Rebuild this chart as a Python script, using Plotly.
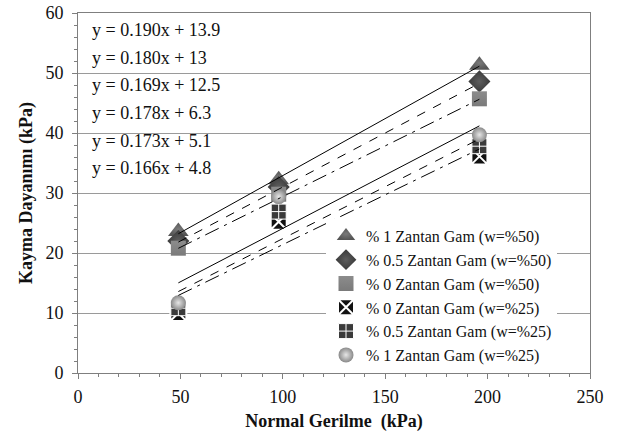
import plotly.graph_objects as go

# ---- data ----
NORMAL_STRESS = [49, 98, 196]
SERIES_NAMES = [
    "% 1 Zantan Gam (w=%50)",
    "% 0.5 Zantan Gam (w=%50)",
    "% 0 Zantan Gam (w=%50)",
    "% 0 Zantan Gam (w=%25)",
    "% 0.5 Zantan Gam (w=%25)",
    "% 1 Zantan Gam (w=%25)",
]
W50_1 = [23.6, 32.2, 51.3]
W50_05 = [22.0, 31.0, 48.6]
W50_0 = [20.8, 29.8, 45.7]
W25_0 = [10.0, 25.2, 36.1]
W25_05 = [10.8, 26.9, 37.8]
W25_1 = [11.7, 29.4, 39.7]
SERIES_VALUES = [W50_1, W50_05, W50_0, W25_0, W25_05, W25_1]

# trendline equations (order as printed on the chart)
EQ_SLOPES = [0.190, 0.180, 0.169, 0.178, 0.173, 0.166]
EQ_INTERCEPTS = [13.9, 13, 12.5, 6.3, 5.1, 4.8]
EQ_TEXTS = [
    "y = 0.190x + 13.9",
    "y = 0.180x + 13",
    "y = 0.169x + 12.5",
    "y = 0.178x + 6.3",
    "y = 0.173x + 5.1",
    "y = 0.166x + 4.8",
]

X_TICKS = [0, 50, 100, 150, 200, 250]
Y_TICKS = [0, 10, 20, 30, 40, 50, 60]

# ---- styles ----
FONT = "Liberation Serif"
marker_styles = [
    dict(symbol="triangle-up", size=18, color="#555555",
         gradient=dict(type="radial", color="#7a7a7a"), line=dict(width=0)),
    dict(symbol="diamond", size=17, color="#3a3a3a",
         gradient=dict(type="radial", color="#5e5e5e"), line=dict(width=0)),
    dict(symbol="square", size=15, color="#8c8c8c",
         gradient=dict(type="vertical", color="#7a7a7a"), line=dict(width=0)),
    dict(symbol="square-x", size=16, color="#111111",
         line=dict(width=2, color="white")),
    dict(symbol="square-cross", size=15, color="#3a3a3a",
         line=dict(width=1, color="white")),
    dict(symbol="circle", size=15, color="#8a8a8a",
         gradient=dict(type="radial", color="#e6e6e6"), line=dict(width=0)),
]
eq_dash = ["solid", "dash", "longdashdot", "solid", "dash", "longdashdot"]

fig = go.Figure()

for name, vals, ms in zip(SERIES_NAMES, SERIES_VALUES, marker_styles):
    fig.add_trace(go.Scatter(
        x=NORMAL_STRESS, y=vals, mode="markers", name=name,
        marker=ms, cliponaxis=False,
    ))

x0, x1 = min(NORMAL_STRESS), max(NORMAL_STRESS)
for m, b, d in zip(EQ_SLOPES, EQ_INTERCEPTS, eq_dash):
    fig.add_trace(go.Scatter(
        x=[x0, x1], y=[m * x0 + b, m * x1 + b], mode="lines",
        line=dict(color="black", width=1, dash=d), showlegend=False,
        hoverinfo="skip",
    ))

W, H = 619, 436
ML, MR, MT, MB = 78, 29, 13, 63
PW, PH = W - ML - MR, H - MT - MB


def px_x(p):  # window pixel -> paper x
    return (p - ML) / PW


def px_y(p):  # window pixel -> paper y
    return (H - MB - p) / PH


# white backgrounds of the equation text box and of the legend box
fig.add_shape(type="rect", xref="paper", yref="paper",
              x0=px_x(82), x1=px_x(233), y0=px_y(186), y1=px_y(16),
              fillcolor="white", line=dict(width=0), layer="between")
fig.add_shape(type="rect", xref="paper", yref="paper",
              x0=px_x(319), x1=px_x(589.5), y0=px_y(366), y1=px_y(204),
              fillcolor="white", line=dict(width=0), layer="between")

eq_pos = [30, 57.5, 85, 112.5, 140.5, 168]
for t, p in zip(EQ_TEXTS, eq_pos):
    fig.add_annotation(text=t, xref="paper", yref="paper", x=px_x(90), y=px_y(p),
                       xanchor="left", yanchor="middle", showarrow=False,
                       font=dict(family=FONT, size=18, color="#111111"))

axis_common = dict(
    showline=True, linecolor="#7f7f7f", linewidth=1, mirror=True,
    ticks="outside", ticklen=5, tickcolor="#7f7f7f",
    tickfont=dict(family=FONT, size=18, color="#111111"),
    zeroline=False, automargin=False,
)

fig.update_layout(
    width=W, height=H,
    margin=dict(l=ML, r=MR, t=MT, b=MB),
    paper_bgcolor="white", plot_bgcolor="white",
    font=dict(family=FONT, size=18, color="#111111"),
    xaxis=dict(range=[0, 250], tickvals=X_TICKS, showgrid=False,
               minor=dict(dtick=10, ticks="outside", ticklen=3, tickcolor="#7f7f7f"),
               ticklabelstandoff=2,
               title=dict(text="<b>Normal Gerilme  (kPa)</b>", standoff=8,
                          font=dict(family=FONT, size=18, color="#111111")),
               **axis_common),
    yaxis=dict(range=[0, 60], tickvals=Y_TICKS, showgrid=True,
               gridcolor="#9a9a9a", gridwidth=1,
               minor=dict(dtick=2, ticks="outside", ticklen=3, tickcolor="#7f7f7f",
                          showgrid=False),
               ticklabelstandoff=5,
               title=dict(text="<b>Kayma Dayanımı (kPa)</b>", standoff=8,
                          font=dict(family=FONT, size=18, color="#111111")),
               **axis_common),
    legend=dict(x=px_x(326), y=px_y(219), xanchor="left", yanchor="top",
                bgcolor="white", borderwidth=0,
                font=dict(family=FONT, size=16, color="#111111"),
                itemsizing="trace", tracegroupgap=0),
    showlegend=True,
)

# remove the browser's default 8px body margin so the figure sits at the window origin
fig.write_html("out.html", config={"displayModeBar": False},
               post_script="document.body.style.margin='0';document.body.style.overflow='hidden';")
